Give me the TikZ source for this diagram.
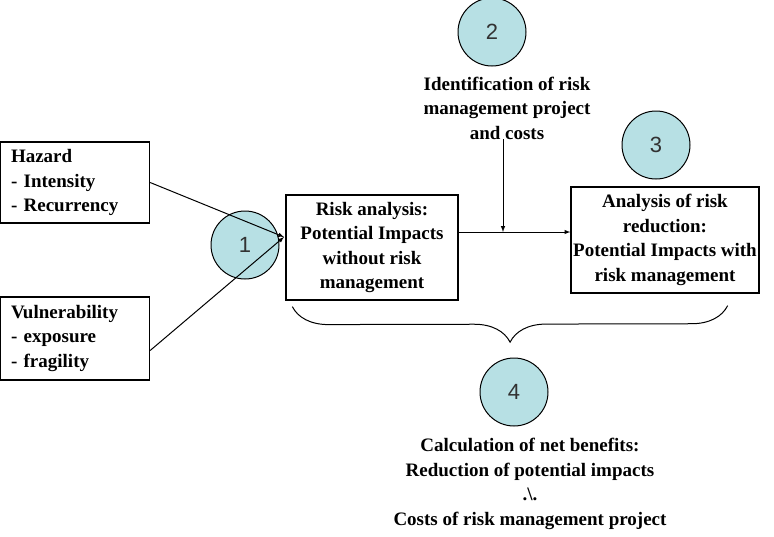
\documentclass[tikz,border=0pt]{standalone}
\usepackage{fontspec}
\setmainfont{Liberation Serif}
\newfontfamily\numfont{Liberation Sans}
\usetikzlibrary{decorations.pathreplacing}
\definecolor{stepblue}{RGB}{183,224,228}
\definecolor{numgray}{RGB}{50,50,50}
\tikzset{
  box/.style={draw, line width=1.3pt, align=center, inner sep=1pt},
  listbox/.style={draw, line width=1.3pt, align=left, text width=128pt, inner xsep=10pt, minimum width=149pt},
  stepnum/.style={circle, draw, line width=1pt, fill=stepblue, minimum size=68pt, inner sep=0pt, text=numgray, font=\numfont\fontsize{22}{24}\selectfont},
  plain/.style={align=center, inner sep=0pt}
}
\begin{document}
\begin{tikzpicture}[x=1pt,y=-1pt,font=\bfseries\fontsize{19}{24.5}\selectfont]
  \useasboundingbox (0,0) rectangle (774,536);
  % boxes
  \node[listbox, minimum height=81pt] at (75,182.5) (hazard) {Hazard\\- Intensity\\- Recurrency};
  \node[listbox, minimum height=83pt] at (75,338.5) (vuln) {Vulnerability\\- exposure\\- fragility};
  \node[box, minimum width=172pt, minimum height=105pt] at (372,247.5) (riskan) {Risk analysis:\\Potential Impacts\\without risk\\management};
  \node[box, minimum width=188pt, minimum height=106pt] at (665,240) (riskred) {Analysis of risk\\reduction:\\Potential Impacts with\\risk management};
  % numbered steps
  \node[stepnum] at (245,245) (c1) {1};
  \node[stepnum] at (492,32) (c2) {2};
  \node[stepnum] at (656,145) (c3) {3};
  \node[stepnum] at (514,392) (c4) {4};
  \node[plain] at (507,108) (ident) {Identification of risk\\management project\\and costs};
  \node[plain] at (530,484) (calc) {Calculation of net benefits:\\Reduction of potential impacts\\.\textbackslash.\\Costs of risk management project};
  % connectors
  \coordinate (tip) at (284,237);
  \coordinate (j) at (503,232);
  \draw[line width=1pt, -latex] (hazard.east) -- (tip);
  \draw[line width=1pt, -latex] ([yshift=-12pt]vuln.east) -- (tip);
  \draw[line width=1pt, -latex] (riskan.east |- j) -- (riskred.west |- j);
  \draw[line width=1pt, -latex] (ident.south -| j) -- (j);
  \draw[line width=1pt, decorate, decoration={brace, mirror, amplitude=36pt}]
    ([xshift=7pt, yshift=-6pt]riskan.south west) -- ([xshift=-32pt, yshift=-12pt]riskred.south east);
\end{tikzpicture}
\end{document}
